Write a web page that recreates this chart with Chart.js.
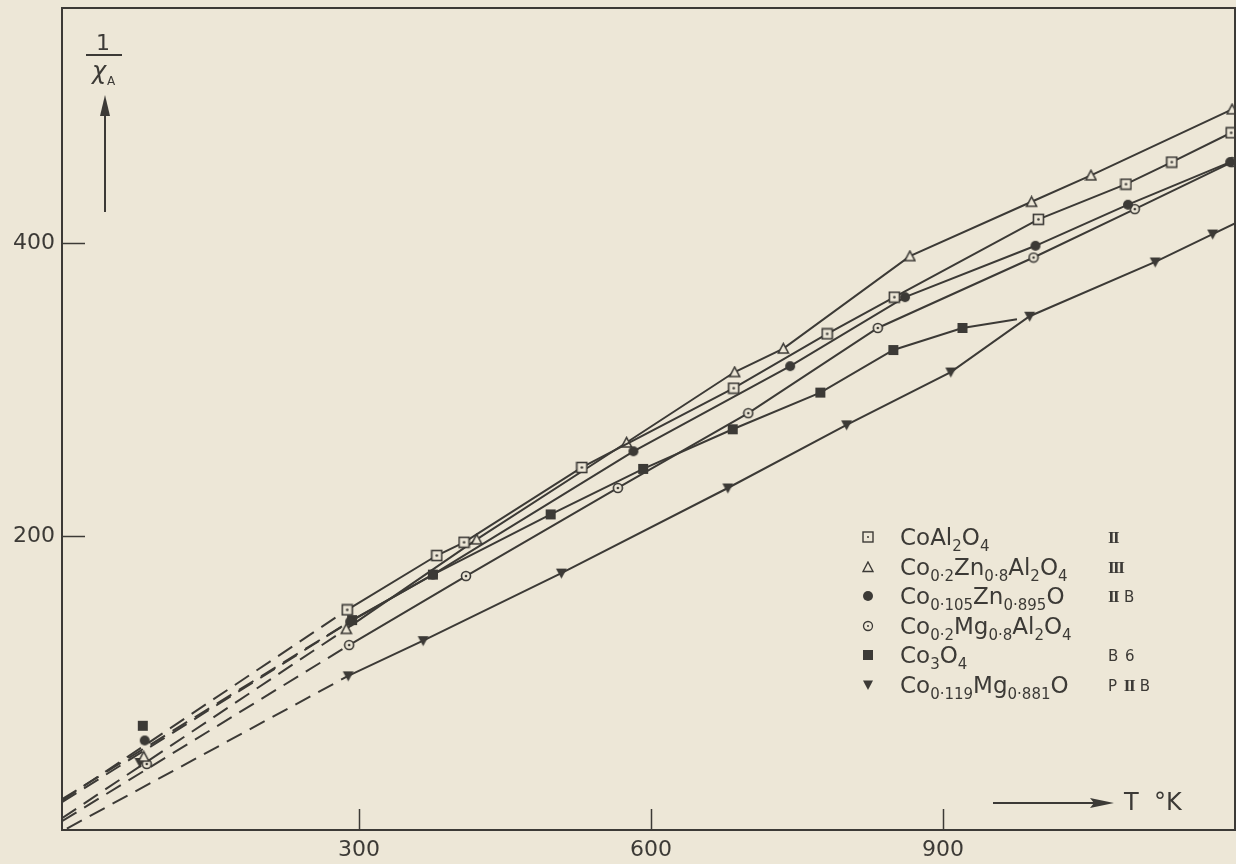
<!DOCTYPE html>
<html>
<head>
<meta charset="utf-8">
<script src="https://cdn.jsdelivr.net/npm/chart.js@4.4.0/dist/chart.umd.min.js"></script>
<style>
html,body{margin:0;padding:0;background:#ede7d7;}
#wrap{position:relative;width:1236px;height:864px;background:#ede7d7;overflow:hidden;}
#c{position:absolute;left:0;top:0;}
.ov{position:absolute;font-family:'DejaVu Sans',sans-serif;color:#3c3a36;white-space:nowrap;}
#legend{left:858px;top:522px;font-size:23px;}
#legend .row{position:relative;height:29.6px;line-height:30px;}
#legend .mk{position:absolute;left:4px;top:9px;width:12px;height:12px;}
#legend .f{position:absolute;left:42px;top:0;}
#legend .r{position:absolute;left:250px;top:1px;font-size:15px;letter-spacing:1px;}
#legend .rn{font-family:'Liberation Serif',serif;font-weight:bold;font-size:17px;letter-spacing:-1.5px;}
#legend sub{font-size:15px;vertical-align:-6px;line-height:0;}
#ylab .one{position:absolute;left:96px;top:30px;font-size:22px;}
#ylab .bar{position:absolute;left:86px;top:54px;width:36px;height:2px;background:#3c3a36;}
#ylab .chi{position:absolute;left:92px;top:57px;font-size:24px;font-style:italic;}
#ylab .sub{position:absolute;left:107px;top:74px;font-size:12px;}
#xlab{left:1124px;top:788px;font-size:24px;}
</style>
</head>
<body>
<div id="wrap">
<canvas id="c" width="1236" height="864"></canvas>
<div id="ylab">
  <div class="ov one">1</div>
  <div class="ov bar"></div>
  <div class="ov chi">χ</div>
  <div class="ov sub">A</div>
</div>
<svg class="ov" style="left:0;top:0" width="1236" height="864">
  <line x1="105" y1="212" x2="105" y2="110" stroke="#3c3a36" stroke-width="2"/>
  <polygon points="105,95 100,116 110,116" fill="#3c3a36"/>
  <line x1="993" y1="803" x2="1100" y2="803" stroke="#3c3a36" stroke-width="2"/>
  <polygon points="1114,803 1090,798 1094,803 1090,808" fill="#3c3a36"/>
</svg>
<div class="ov" id="xlab">T&nbsp;&nbsp;°K</div>
<div class="ov" id="legend">
  <div class="row"><svg class="mk" viewBox="0 0 12 12"><rect x="1" y="1" width="10" height="10" fill="none" stroke="#3c3a36" stroke-width="1.4"/><circle cx="6" cy="6" r="1" fill="#3c3a36"/></svg><span class="f">CoAl<sub>2</sub>O<sub>4</sub></span><span class="r"><span class="rn">II</span></span></div>
  <div class="row"><svg class="mk" viewBox="0 0 12 12"><polygon points="6,1 11,10.5 1,10.5" fill="none" stroke="#3c3a36" stroke-width="1.4"/></svg><span class="f">Co<sub>0·2</sub>Zn<sub>0·8</sub>Al<sub>2</sub>O<sub>4</sub></span><span class="r"><span class="rn">III</span></span></div>
  <div class="row"><svg class="mk" viewBox="0 0 12 12"><circle cx="6" cy="6" r="5" fill="#3c3a36"/></svg><span class="f">Co<sub>0·105</sub>Zn<sub>0·895</sub>O</span><span class="r"><span class="rn">II</span>&nbsp;B</span></div>
  <div class="row"><svg class="mk" viewBox="0 0 12 12"><circle cx="6" cy="6" r="4.5" fill="none" stroke="#3c3a36" stroke-width="1.3"/><circle cx="6" cy="6" r="1" fill="#3c3a36"/></svg><span class="f">Co<sub>0·2</sub>Mg<sub>0·8</sub>Al<sub>2</sub>O<sub>4</sub></span><span class="r"></span></div>
  <div class="row"><svg class="mk" viewBox="0 0 12 12"><rect x="1" y="1" width="10" height="10" fill="#3c3a36"/></svg><span class="f">Co<sub>3</sub>O<sub>4</sub></span><span class="r">B 6</span></div>
  <div class="row"><svg class="mk" viewBox="0 0 12 12"><polygon points="1,1.5 11,1.5 6,11" fill="#3c3a36"/></svg><span class="f">Co<sub>0·119</sub>Mg<sub>0·881</sub>O</span><span class="r">P <span class="rn">II</span>&nbsp;B</span></div>
</div>
</div>
<script>
// ---- data (T in K, 1/chi_A) ----
const xTicks = [300, 600, 900];
const yTicks = [200, 400];

const tCoAl2O4 = [288, 380, 408, 529, 685, 781, 850, 998, 1088, 1135, 1196];
const yCoAl2O4 = [150, 187, 196, 247, 301, 338, 363, 416, 440, 455, 475];

const tCoZnAl = [287, 421, 575, 686, 736, 866, 991, 1052, 1197];
const yCoZnAl = [137, 198, 264, 312, 328, 391, 428, 446, 491];

const tCoZnO = [291, 376, 582, 743, 861, 995, 1090, 1195];
const yCoZnO = [142, 174, 258, 316, 363, 398, 426, 455];

const tCoMgAl = [290, 410, 566, 700, 833, 993, 1097, 1197];
const yCoMgAl = [126, 173, 233, 284, 342, 390, 423, 455];

const tCo3O4 = [293, 376, 497, 592, 684, 774, 849, 920, 976];
const yCo3O4 = [143, 174, 215, 246, 273, 298, 327, 342, 348];

const tCoMgO = [289, 366, 508, 679, 801, 908, 989, 1118, 1177, 1240];
const yCoMgO = [105, 129, 175, 233, 276, 312, 350, 387, 406, 426];

// points measured at liquid-nitrogen temperature
const t77 = { CoAl2O4: null, CoZnAl: 79, CoZnO: 80, CoMgAl: 82, Co3O4: 78, CoMgO: 75 };
const y77 = { CoAl2O4: null, CoZnAl: 50, CoZnO: 61, CoMgAl: 45, Co3O4: 71, CoMgO: 46 };

// dashed extrapolations towards T = 0
const tExtra = [-5, 0];
const yExtraCoAl2O4 = 20, yExtraCoZnAl = 8, yExtraCoZnO = 19, yExtraCoMgAl = 6, yExtraCo3O4 = 21, yExtraCoMgO = 1;

// ---- styling ----
const INK = '#3c3a36';
const BG = '#ede7d7';

function marker(kind, s) {
  const c = document.createElement('canvas');
  c.width = s; c.height = s;
  const g = c.getContext('2d');
  const m = s / 2;
  g.strokeStyle = INK; g.fillStyle = INK; g.lineWidth = 1.6;
  if (kind === 'sqOpen') {
    g.fillStyle = BG; g.fillRect(1.5, 1.5, s - 3, s - 3);
    g.strokeRect(1.5, 1.5, s - 3, s - 3);
    g.fillStyle = INK; g.beginPath(); g.arc(m, m, 1.3, 0, 7); g.fill();
  } else if (kind === 'triOpen') {
    g.beginPath(); g.moveTo(m, 1.5); g.lineTo(s - 1.5, s - 2); g.lineTo(1.5, s - 2); g.closePath();
    g.fillStyle = BG; g.fill(); g.stroke();
  } else if (kind === 'circFill') {
    g.beginPath(); g.arc(m, m, m - 1, 0, 7); g.fill();
  } else if (kind === 'circOpen') {
    g.beginPath(); g.arc(m, m, m - 1.5, 0, 7); g.fillStyle = BG; g.fill(); g.stroke();
    g.fillStyle = INK; g.beginPath(); g.arc(m, m, 1.3, 0, 7); g.fill();
  } else if (kind === 'sqFill') {
    g.fillRect(1, 1, s - 2, s - 2);
  } else if (kind === 'triDown') {
    g.beginPath(); g.moveTo(1, 2); g.lineTo(s - 1, 2); g.lineTo(m, s - 1); g.closePath(); g.fill();
  }
  return c;
}

const M = {
  CoAl2O4: marker('sqOpen', 13),
  CoZnAl: marker('triOpen', 13),
  CoZnO: marker('circFill', 12),
  CoMgAl: marker('circOpen', 12),
  Co3O4: marker('sqFill', 12),
  CoMgO: marker('triDown', 13)
};

const pts = (t, y) => t.map((v, i) => ({ x: v, y: y[i] }));

const series = [
  { key: 'CoAl2O4', t: tCoAl2O4, y: yCoAl2O4, e: yExtraCoAl2O4, lastNoMarker: false },
  { key: 'CoZnAl', t: tCoZnAl, y: yCoZnAl, e: yExtraCoZnAl, lastNoMarker: false },
  { key: 'CoZnO', t: tCoZnO, y: yCoZnO, e: yExtraCoZnO, lastNoMarker: false },
  { key: 'CoMgAl', t: tCoMgAl, y: yCoMgAl, e: yExtraCoMgAl, lastNoMarker: false },
  { key: 'Co3O4', t: tCo3O4, y: yCo3O4, e: yExtraCo3O4, lastNoMarker: true },
  { key: 'CoMgO', t: tCoMgO, y: yCoMgO, e: yExtraCoMgO, lastNoMarker: true }
];

const datasets = [];
series.forEach(s => {
  const x0 = s.key === 'CoMgO' ? tExtra[1] : tExtra[0];
  datasets.push({
    data: [{ x: x0, y: s.e }, { x: s.t[0], y: s.y[0] }],
    borderColor: INK, borderWidth: 2, borderDash: [17, 9],
    pointRadius: 0, showLine: true, fill: false, order: 3
  });
});
series.forEach(s => {
  datasets.push({
    data: pts(s.t, s.y),
    borderColor: INK, borderWidth: 2, fill: false, showLine: true,
    pointStyle: M[s.key],
    pointRadius: s.t.map((_, i) => (s.lastNoMarker && i === s.t.length - 1) ? 0 : 6),
    order: 2
  });
});
series.forEach(s => {
  if (t77[s.key] == null) return;
  datasets.push({
    data: [{ x: t77[s.key], y: y77[s.key] }],
    showLine: false, pointStyle: M[s.key], pointRadius: 6, order: 1
  });
});

const frame = {
  id: 'frame',
  afterDraw(chart) {
    const { ctx, chartArea: a, scales } = chart;
    ctx.save();
    ctx.strokeStyle = INK;
    ctx.lineWidth = 2;
    ctx.strokeRect(a.left, a.top, a.right - a.left - 1, a.bottom - a.top);
    ctx.lineWidth = 1.5;
    xTicks.forEach(v => {
      const p = Math.round(scales.x.getPixelForValue(v)) + 0.5;
      ctx.beginPath(); ctx.moveTo(p, a.bottom); ctx.lineTo(p, a.bottom - 21); ctx.stroke();
    });
    yTicks.forEach(v => {
      const p = Math.round(scales.y.getPixelForValue(v)) + 0.5;
      ctx.beginPath(); ctx.moveTo(a.left, p); ctx.lineTo(a.left + 23, p); ctx.stroke();
    });
    ctx.restore();
  }
};

const zeroPad = sc => { sc.paddingTop = 0; sc.paddingBottom = 0; sc.paddingLeft = 0; sc.paddingRight = 0; };

new Chart(document.getElementById('c'), {
  type: 'scatter',
  data: { datasets },
  options: {
    responsive: false,
    animation: false,
    events: [],
    layout: { autoPadding: false, padding: { top: 8, right: 0, left: 0, bottom: 0 } },
    plugins: { legend: { display: false }, tooltip: { enabled: false } },
    scales: {
      x: {
        type: 'linear', min: -5, max: 1201,
        grid: { display: false, drawTicks: false },
        border: { display: false },
        afterBuildTicks: sc => { sc.ticks = xTicks.map(v => ({ value: v })); },
        afterFit: sc => { sc.height = 34; zeroPad(sc); },
        ticks: { color: INK, padding: 7, font: { family: 'DejaVu Sans', size: 22 }, maxRotation: 0 }
      },
      y: {
        type: 'linear', min: 0, max: 560,
        grid: { display: false, drawTicks: false },
        border: { display: false },
        afterBuildTicks: sc => { sc.ticks = yTicks.map(v => ({ value: v })); },
        afterFit: sc => { sc.width = 62; zeroPad(sc); },
        ticks: { color: INK, padding: 7, font: { family: 'DejaVu Sans', size: 22 } }
      }
    }
  },
  plugins: [frame]
});
</script>
</body>
</html>
